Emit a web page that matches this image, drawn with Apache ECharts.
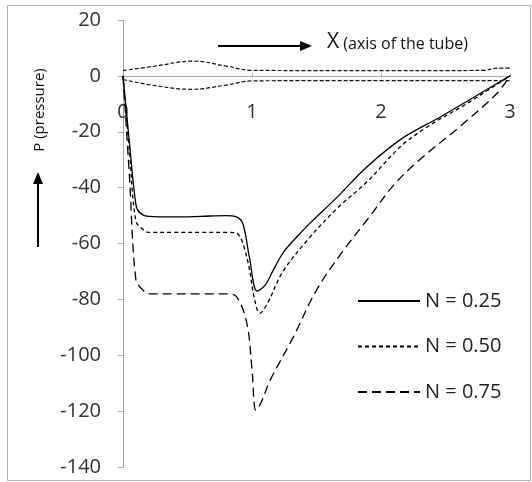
<!DOCTYPE html>
<html>
<head>
<meta charset="utf-8">
<script src="https://cdn.jsdelivr.net/npm/echarts@6/dist/echarts.min.js"></script>
<style>
html,body{margin:0;padding:0;background:#fff;}
#main{width:532px;height:482px;}
</style>
</head>
<body>
<div id="main"></div>
<script>
// values
var names = ['N = 0.25', 'N = 0.50', 'N = 0.75'];

var x25 = [0, 0.05, 0.1, 0.13, 0.2, 0.4, 0.6, 0.8, 0.88, 0.93, 0.98, 1.04, 1.1, 1.16, 1.24, 1.35, 1.45, 1.66, 1.89, 2.17, 2.46, 2.71, 3];
var y25 = [0, -24, -46, -49, -50.3, -50.5, -50.3, -50, -50.5, -53, -65, -77, -75, -70, -63.4, -57.5, -52.7, -43.4, -32.6, -22.2, -14.7, -7.9, 0];

var x50 = [0, 0.05, 0.1, 0.155, 0.2, 0.4, 0.6, 0.8, 0.88, 0.96, 1.02, 1.06, 1.12, 1.24, 1.45, 1.66, 1.89, 2.15, 2.36, 2.67, 3];
var y50 = [0, -27, -52, -55, -56, -56, -56, -56, -56.3, -65, -80, -85, -81.4, -70, -57.7, -47.4, -38, -25.4, -18.2, -9.8, 0];

var x75 = [0, 0.05, 0.1, 0.155, 0.2, 0.4, 0.6, 0.8, 0.88, 0.96, 1.0, 1.03, 1.07, 1.14, 1.32, 1.5, 1.71, 1.91, 2.1, 2.3, 2.61, 2.9, 3];
var y75 = [0, -36, -73, -76.7, -78, -78, -78, -78, -79, -88.5, -105, -119.7, -117, -109, -93.5, -76.7, -62.4, -50.5, -39, -30, -18.2, -6.2, 0];

// outline of the tube
var xTop = [0, 0.25, 0.54, 0.8, 1, 1.5, 2, 2.5, 2.8, 2.9, 3];
var yTop = [1.9, 3.5, 5.3, 3.5, 2, 1.9, 1.9, 1.9, 2, 2.8, 2.8];
var xBot = [0, 0.25, 0.53, 0.8, 1, 1.5, 2, 2.5, 3];
var yBot = [-1.3, -3.5, -4.8, -3.3, -1.8, -1.7, -1.7, -1.7, -1.7];

function pairs(xs, ys){
	var out = [];
	for(var i=0; i<xs.length; i++){
		out.push([xs[i], ys[i]]);
	}
	return out;
}

var font = '"Open Sans", sans-serif';
var lineDash = ['solid', [4, 3], [9, 5]];
var allX = [x25, x50, x75];
var allY = [y25, y50, y75];

var serieData = [];
for(var v=0; v<names.length; v++){
	serieData.push({
		name: names[v],
		type: 'line',
		symbol: 'none',
		smooth: 0.35,
		data: pairs(allX[v], allY[v]),
		itemStyle: {color: '#000'},
		lineStyle: {color: '#000', width: 1.3, type: lineDash[v]}
	});
}
serieData.push({
	name: 'tubeTop', type: 'line', symbol: 'none', smooth: 0.4, silent: true,
	data: pairs(xTop, yTop),
	lineStyle: {color: '#111', width: 1.2, type: [4, 2]}
});
serieData.push({
	name: 'tubeBot', type: 'line', symbol: 'none', smooth: 0.4, silent: true,
	data: pairs(xBot, yBot),
	lineStyle: {color: '#111', width: 1.2, type: [4, 2]}
});

var myChart = echarts.init(document.getElementById('main'));
var option = {
	animation: false,
	backgroundColor: '#fff',
	grid: {left: 123, right: 22, top: 20, bottom: 15},
	legend: {
		data: names,
		orient: 'vertical',
		left: 352,
		top: 286,
		itemWidth: 62,
		itemHeight: 14,
		itemGap: 25.5,
		itemStyle: {color: 'rgba(0,0,0,0)', borderWidth: 0},
		textStyle: {fontFamily: font, fontSize: 20, color: '#222'}
	},
	xAxis: {
		type: 'value',
		min: 0, max: 3, interval: 1,
		offset: -391, // puts the axis on the zero line
		axisLine: {onZero: false, lineStyle: {color: '#a6a6a6', width: 1}},
		axisTick: {show: true, inside: true, length: 3, lineStyle: {color: '#a6a6a6'}},
		axisLabel: {margin: 26, fontFamily: font, fontSize: 20, color: '#333'},
		splitLine: {show: false}
	},
	yAxis: {
		type: 'value',
		min: -140, max: 20, interval: 20,
		axisLine: {show: true, lineStyle: {color: '#a6a6a6', width: 1}},
		axisTick: {show: true, length: 5, lineStyle: {color: '#a6a6a6'}},
		axisLabel: {margin: 22, fontFamily: font, fontSize: 20, color: '#333'},
		splitLine: {show: false}
	},
	graphic: [
		{type: 'rect', shape: {x: 7.5, y: 5.5, width: 523, height: 475}, style: {fill: null, stroke: '#b0b0b0', lineWidth: 1}, z: -1},
		// horizontal arrow
		{type: 'line', shape: {x1: 218, y1: 46, x2: 302, y2: 46}, style: {stroke: '#000', lineWidth: 2}},
		{type: 'polygon', shape: {points: [[300, 41], [312, 46], [300, 51]]}, style: {fill: '#000'}},
		{type: 'text', left: 327, top: 32, style: {
			text: '{a|X}{b| (axis of the tube)}',
			rich: {
				a: {fontFamily: font, fontSize: 21, fill: '#111'},
				b: {fontFamily: font, fontSize: 16, fill: '#111', padding: [3, 0, 0, 0]}
			}
		}},
		// vertical arrow
		{type: 'line', shape: {x1: 38, y1: 247, x2: 38, y2: 182}, style: {stroke: '#000', lineWidth: 2}},
		{type: 'polygon', shape: {points: [[33, 184], [38, 172], [43, 184]]}, style: {fill: '#000'}},
		{type: 'text', x: 40, y: 110, rotation: Math.PI / 2, style: {
			text: 'P (pressure)', fontFamily: font, fontSize: 15, fill: '#111',
			align: 'center', verticalAlign: 'middle'
		}}
	],
	series: serieData
};
myChart.setOption(option);
</script>
</body>
</html>
